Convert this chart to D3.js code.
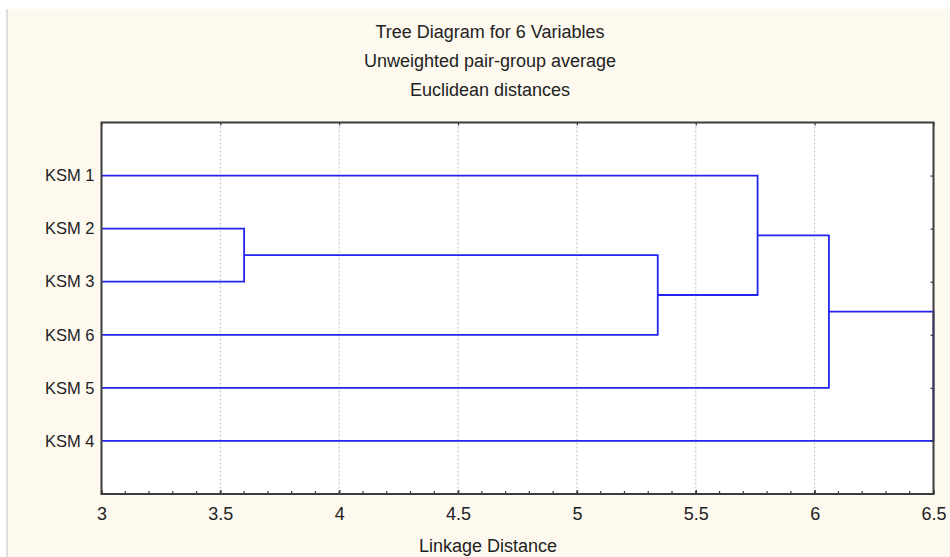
<!DOCTYPE html>
<html>
<head>
<meta charset="utf-8">
<script src="https://cdn.jsdelivr.net/npm/d3@7"></script>
<style>
  body { margin: 0; background: #fff; }
  svg text { font-family: "Liberation Sans", Arial, sans-serif; fill: #222; }
</style>
</head>
<body>
<div id="chart"></div>
<script>
const width = 950,
    height = 557,
    margin = { top: 122.5, bottom: 63, left: 101.5, right: 16.5 };

// leaves, top to bottom
const leaves = ["KSM 1", "KSM 2", "KSM 3", "KSM 6", "KSM 5", "KSM 4"];

// each merge joins linkLeft[i] and linkRight[i] at linkHeight[i]; merge i makes cluster "C" + (i + 1)
const linkLeft = ["KSM 2", "C1", "KSM 1", "C3", "C4"];
const linkRight = ["KSM 3", "KSM 6", "C2", "KSM 5", "KSM 4"];
const linkHeight = [3.60, 5.34, 5.76, 6.06, 6.50];

const xTicks = ["3", "3.5", "4", "4.5", "5", "5.5", "6", "6.5"];
const titles = ["Tree Diagram for 6 Variables", "Unweighted pair-group average", "Euclidean distances"];
const xTitle = "Linkage Distance";

const svg = d3.select("#chart").append("svg")
    .attr("width", width)
    .attr("height", height);

// cream panel
svg.append("rect")
    .attr("x", 8).attr("y", 9)
    .attr("width", width - 8).attr("height", height - 9)
    .attr("fill", "#fdf9ef");
svg.append("line")
    .attr("x1", 7).attr("x2", 7).attr("y1", 9).attr("y2", height)
    .attr("stroke", "#d4d4d4").attr("stroke-width", 1.5);

const x = d3.scaleLinear()
    .domain([3, 6.5])
    .range([margin.left, width - margin.right]);

const y = d3.scaleLinear()
    .domain([0, leaves.length + 1])
    .range([margin.top, height - margin.bottom]);

const plotW = x.range()[1] - x.range()[0],
    plotH = y.range()[1] - y.range()[0];

svg.append("rect")
    .attr("x", margin.left).attr("y", margin.top)
    .attr("width", plotW).attr("height", plotH)
    .attr("fill", "#fff");

// dashed gridlines at major ticks
svg.append("g")
    .selectAll("line")
    .data(xTicks.map(Number).filter(d => d > 3 && d < 6.5))
    .join("line")
    .attr("x1", d => x(d)).attr("x2", d => x(d))
    .attr("y1", margin.top).attr("y2", margin.top + plotH)
    .attr("stroke", "#c8c8c8")
    .attr("stroke-width", 1.2)
    .attr("stroke-dasharray", "2,2");

// node positions
const pos = new Map();
leaves.forEach((d, i) => pos.set(d, { x: 3, y: i + 1 }));
linkLeft.forEach((a, i) => {
    const pa = pos.get(a), pb = pos.get(linkRight[i]);
    pos.set("C" + (i + 1), { x: linkHeight[i], y: (pa.y + pb.y) / 2 });
});

const links = linkLeft.map((a, i) => ({ a: pos.get(a), b: pos.get(linkRight[i]), h: linkHeight[i] }));

svg.append("g")
    .selectAll("path")
    .data(links)
    .join("path")
    .attr("d", d => `M${x(d.a.x)},${y(d.a.y)}H${x(d.h)}V${y(d.b.y)}H${x(d.b.x)}`)
    .attr("fill", "none")
    .attr("stroke", "#2424f2")
    .attr("stroke-width", 1.8);

// frame
svg.append("rect")
    .attr("x", margin.left).attr("y", margin.top)
    .attr("width", plotW).attr("height", plotH)
    .attr("fill", "none")
    .attr("stroke", "#3c3c3c")
    .attr("stroke-width", 2);

// bottom axis: labels + major ticks
const xAxis = d3.axisBottom(x)
    .tickValues(xTicks.map(Number))
    .tickFormat((d, i) => xTicks[i])
    .tickSizeInner(-4)
    .tickSizeOuter(0)
    .tickPadding(13);

const gx = svg.append("g")
    .attr("transform", `translate(0,${margin.top + plotH})`)
    .call(xAxis);
gx.select(".domain").remove();
gx.selectAll(".tick line").attr("stroke", "#3c3c3c").attr("stroke-width", 1.5);
gx.selectAll("text")
    .attr("font-size", 18)
    .attr("fill", "#222");

// minor ticks every 0.1
const minor = d3.range(30, 66).map(d => d / 10);
svg.append("g")
    .selectAll("line")
    .data(minor)
    .join("line")
    .attr("x1", d => x(d)).attr("x2", d => x(d))
    .attr("y1", margin.top + plotH).attr("y2", margin.top + plotH - 3)
    .attr("stroke", "#3c3c3c").attr("stroke-width", 1.2);

// top axis ticks
const gTop = svg.append("g")
    .attr("transform", `translate(0,${margin.top})`)
    .call(d3.axisTop(x).tickValues(xTicks.map(Number)).tickFormat("").tickSizeInner(-3).tickSizeOuter(0));
gTop.select(".domain").remove();
gTop.selectAll(".tick line").attr("stroke", "#3c3c3c").attr("stroke-width", 1.2);

// left axis with leaf labels
const yAxis = d3.axisLeft(y)
    .tickValues(leaves.map((d, i) => i + 1))
    .tickFormat((d, i) => leaves[i])
    .tickSizeInner(0)
    .tickSizeOuter(0)
    .tickPadding(7);

const gy = svg.append("g")
    .attr("transform", `translate(${margin.left},0)`)
    .call(yAxis);
gy.select(".domain").remove();
gy.selectAll("text").attr("font-size", 16.5).attr("fill", "#222");

// right side row ticks
const gRight = svg.append("g")
    .attr("transform", `translate(${margin.left + plotW},0)`)
    .call(d3.axisRight(y).tickValues(leaves.map((d, i) => i + 1)).tickFormat("").tickSizeInner(-3).tickSizeOuter(0));
gRight.select(".domain").remove();
gRight.selectAll(".tick line").attr("stroke", "#3c3c3c").attr("stroke-width", 1.2);

// titles
svg.append("g")
    .selectAll("text")
    .data(titles)
    .join("text")
    .attr("x", 490)
    .attr("y", (d, i) => 38 + i * 29)
    .attr("text-anchor", "middle")
    .attr("font-size", 18)
    .text(d => d);

svg.append("text")
    .attr("x", 488)
    .attr("y", 552)
    .attr("text-anchor", "middle")
    .attr("font-size", 18)
    .text(xTitle);
</script>
</body>
</html>
